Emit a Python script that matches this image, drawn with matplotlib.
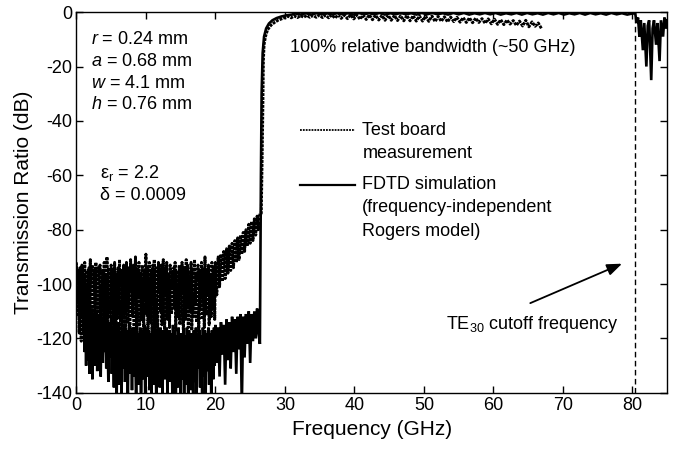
import numpy as np
import matplotlib
matplotlib.use("Agg")
import matplotlib.pyplot as plt
from matplotlib.lines import Line2D

plt.rcParams['font.family'] = ['Liberation Sans', 'DejaVu Sans']
plt.rcParams['mathtext.fontset'] = 'custom'
plt.rcParams['mathtext.rm'] = 'Liberation Sans'
plt.rcParams['mathtext.it'] = 'Liberation Sans:italic'

# ---------------- data ----------------
# Measurement, stop band 0 .. 20 GHz (0.1 GHz grid)
meas_stop_db = [
    -92, -105, -112, -96, -118, -94, -101, -121, -93, -109,
    -97, -115, -92, -108, -120, -95, -103, -117, -94, -111,
    -91, -119, -99, -93, -114, -106, -95, -122, -92, -104,
    -110, -94, -118, -97, -93, -113, -101, -120, -95, -107,
    -92, -116, -96, -109, -90, -121, -98, -94, -112, -104,
    -93, -119, -95, -108, -115, -92, -102, -118, -96, -110,
    -94, -113, -91, -106, -120, -95, -100, -116, -93, -111,
    -97, -118, -92, -104, -114, -94, -109, -121, -91, -103,
    -95, -112, -93, -117, -99, -90, -110, -119, -94, -105,
    -92, -115, -96, -102, -113, -93, -108, -120, -95, -106,
    -89, -111, -94, -117, -100, -92, -114, -105, -95, -119,
    -93, -107, -91, -116, -98, -94, -112, -121, -92, -103,
    -95, -110, -93, -115, -99, -91, -108, -118, -94, -104,
    -92, -113, -96, -101, -116, -93, -107, -111, -95, -102,
    -94, -109, -92, -117, -100, -95, -112, -106, -93, -115,
    -96, -103, -92, -111, -118, -94, -105, -113, -91, -108,
    -93, -116, -95, -102, -110, -92, -117, -104, -94, -112,
    -91, -107, -96, -114, -99, -93, -118, -106, -95, -110,
    -92, -113, -94, -103, -116, -90, -108, -111, -95, -104,
    -93, -115, -97, -106, -112, -92, -109, -101, -94, -113,
    -92,
]
meas_stop_f = np.linspace(0.0, 20.0, len(meas_stop_db))

# Measurement, rising part 20.2 .. 26.4 GHz (0.2 GHz grid)
meas_ramp_db = [
    -104, -90, -101, -89, -99, -88, -98, -87, -96, -86,
    -95, -85, -94, -84, -92, -83, -91, -82, -89, -81,
    -88, -80, -86, -78, -85, -77, -84, -76, -82, -75,
    -80, -74,
]
meas_ramp_f = np.linspace(20.2, 26.4, len(meas_ramp_db))

# Measurement, transition edge
meas_edge_f = [26.6, 26.8, 26.9, 27.0, 27.2, 27.5, 28.0, 28.5, 29.0, 29.5]
meas_edge_db = [-74, -40, -18, -12, -9, -6.5, -4.8, -3.8, -3.0, -2.5]

# Measurement, pass band 30 .. 66.9 GHz
meas_pass_db = [
    -2.0, -1.5, -2.1, -1.4, -2.0, -1.3, -1.9, -1.2, -1.9, -1.2,
    -1.9, -1.1, -2.0, -1.1, -2.1, -1.0, -2.2, -1.0, -2.3, -1.1,
    -2.4, -1.0, -2.5, -1.0, -2.6, -1.1, -2.7, -1.0, -2.8, -1.1,
    -2.9, -1.2, -3.0, -1.1, -3.0, -1.2, -3.1, -1.3, -3.2, -1.2,
    -3.2, -1.3, -3.3, -1.4, -3.3, -1.5, -3.4, -1.4, -3.5, -1.6,
    -3.4, -1.7, -3.6, -1.8, -3.5, -1.9, -3.7, -2.0, -3.8, -2.1,
    -3.9, -2.2, -3.8, -2.4, -4.1, -2.5, -4.3, -2.6, -4.5, -2.8,
    -4.6, -2.9, -4.4, -3.1, -4.9, -3.3, -5.1, -3.0, -5.4, -3.6,
    -5.2, -4.0, -6.0,
]
meas_pass_f = np.linspace(30.0, 66.9, len(meas_pass_db))

# Simulation, stop band 0 .. 20 GHz (0.1 GHz grid)
sim_stop_db = [
    -93, -97, -100, -95, -104, -99, -108, -103, -112, -106,
    -118, -108, -125, -111, -130, -106, -121, -128, -110, -133,
    -114, -126, -109, -135, -118, -112, -130, -116, -124, -110,
    -132, -115, -127, -111, -122, -134, -113, -119, -129, -112,
    -108, -125, -117, -131, -110, -122, -136, -114, -120, -127,
    -112, -133, -116, -124, -138, -115, -129, -120, -141, -117,
    -126, -114, -137, -122, -118, -142, -116, -131, -123, -115,
    -136, -119, -128, -117, -143, -121, -115, -133, -126, -118,
    -139, -116, -124, -134, -117, -129, -145, -115, -121, -137,
    -118, -131, -116, -140, -122, -117, -127, -135, -115, -143,
    -120, -116, -134, -128, -117, -139, -118, -125, -142, -116,
    -130, -119, -137, -115, -126, -144, -117, -132, -121, -118,
    -138, -116, -129, -120, -141, -117, -124, -135, -118, -130,
    -116, -143, -119, -127, -117, -136, -122, -118, -140, -115,
    -128, -133, -117, -145, -119, -124, -138, -116, -131, -120,
    -146, -118, -127, -135, -117, -142, -121, -119, -137, -116,
    -130, -144, -117, -125, -139, -118, -133, -120, -147, -117,
    -128, -136, -116, -141, -122, -118, -131, -117, -138, -119,
    -125, -143, -116, -129, -134, -117, -140, -121, -118, -132,
    -116, -137, -123, -118, -142, -117, -127, -135, -116, -130,
    -115,
]
sim_stop_f = np.linspace(0.0, 20.0, len(sim_stop_db))

# Simulation, 20.2 .. 26.4 GHz (0.2 GHz grid)
sim_ramp_db = [
    -129, -116, -134, -114, -126, -115, -137, -113, -128, -114,
    -131, -112, -125, -113, -133, -112, -124, -111, -145, -112,
    -127, -111, -122, -110, -129, -111, -121, -110, -120, -109,
    -118, -122,
]
sim_ramp_f = np.linspace(20.2, 26.4, len(sim_ramp_db))

# Simulation, transition edge
sim_edge_f = [26.45, 26.55, 26.65, 26.8, 27.0, 27.3, 27.7, 28.2, 28.8, 29.5, 30.2, 31.0]
sim_edge_db = [-100, -60, -30, -15, -9, -6, -4.2, -3, -2.2, -1.6, -1.2, -0.9]

# Simulation, pass band 31.5 .. 80 GHz
sim_pass_db = [
    -0.5, -0.9, -0.4, -0.9, -0.4, -0.8, -0.4, -0.9, -0.3, -0.8,
    -0.4, -0.9, -0.3, -0.8, -0.4, -0.8, -0.3, -0.9, -0.4, -0.8,
    -0.3, -0.8, -0.4, -0.9, -0.3, -0.8, -0.3, -0.8, -0.4, -0.9,
    -0.3, -0.8, -0.3, -0.9, -0.4, -0.8, -0.3, -0.8, -0.3, -0.9,
    -0.4, -0.8, -0.3, -0.9, -0.3, -0.8, -0.4, -0.9, -0.3, -0.8,
    -0.3, -0.9, -0.4, -0.8, -0.3, -0.9, -0.3, -0.8, -0.4, -0.9,
    -0.3, -0.8, -0.4, -0.9, -0.5,
]
sim_pass_f = np.linspace(31.5, 80.0, len(sim_pass_db))

# Simulation, above TE30 cutoff
sim_high_f = [80.4, 80.6, 80.8, 81.0, 81.2, 81.5, 81.7, 82.0, 82.2, 82.4, 82.7,
              82.9, 83.1, 83.4, 83.6, 83.9, 84.1, 84.4, 84.6, 84.8, 85.0]
sim_high_db = [-0.5, -4, -2, -9, -3, -14, -4, -20, -5, -3, -25,
               -6, -3, -12, -4, -18, -3, -9, -2, -6, -3]

te30_cutoff = 80.3

x_ticks = [0, 10, 20, 30, 40, 50, 60, 70, 80]
y_ticks = [0, -20, -40, -60, -80, -100, -120, -140]

# ---------------- figure ----------------
fig = plt.figure(figsize=(6.76, 4.49), dpi=100)
ax = fig.add_axes([0.113, 0.125, 0.874, 0.848])

meas_f = np.concatenate([meas_stop_f, meas_ramp_f, meas_edge_f, meas_pass_f])
meas_db = np.concatenate([meas_stop_db, meas_ramp_db, meas_edge_db, meas_pass_db])
sim_f = np.concatenate([sim_stop_f, sim_ramp_f, sim_edge_f, sim_pass_f, sim_high_f])
sim_db = np.concatenate([sim_stop_db, sim_ramp_db, sim_edge_db, sim_pass_db, sim_high_db])

ax.plot(sim_f, sim_db, color='black', lw=1.9, solid_joinstyle='miter')
ax.plot(meas_f, meas_db, color='black', lw=2.1, linestyle=(0, (1.0, 0.35)))

ax.axvline(te30_cutoff, color='black', lw=1.0, linestyle=(0, (4, 2.5)))

ax.set_xlim(0, 85)
ax.set_ylim(-140, 0)
ax.set_xticks(x_ticks)
ax.set_yticks(y_ticks)
ax.set_yticklabels([str(v) for v in y_ticks])
ax.tick_params(direction='in', top=True, right=True, length=5, width=1,
               labelsize=13, pad=3)
for s in ax.spines.values():
    s.set_linewidth(1.0)

ax.set_xlabel('Frequency (GHz)', fontsize=15, labelpad=4)
ax.set_ylabel('Transmission Ratio (dB)', fontsize=15, labelpad=2)

# parameter annotations
pfs = 13
ax.text(0.025, 0.927, r'$\it{r}$ = 0.24 mm', transform=ax.transAxes, fontsize=pfs, va='center')
ax.text(0.025, 0.870, r'$\it{a}$ = 0.68 mm', transform=ax.transAxes, fontsize=pfs, va='center')
ax.text(0.025, 0.812, r'$\it{w}$ = 4.1 mm', transform=ax.transAxes, fontsize=pfs, va='center')
ax.text(0.025, 0.758, r'$\it{h}$ = 0.76 mm', transform=ax.transAxes, fontsize=pfs, va='center')
ax.text(0.040, 0.577, r'ε$_\mathrm{r}$ = 2.2', transform=ax.transAxes, fontsize=pfs, va='center')
ax.text(0.040, 0.518, 'δ = 0.0009', transform=ax.transAxes, fontsize=pfs, va='center')

ax.text(0.362, 0.908, '100% relative bandwidth (~50 GHz)', transform=ax.transAxes,
        fontsize=pfs, va='center')

# legend (manual)
ax.add_line(Line2D([0.379, 0.472], [0.690, 0.690], transform=ax.transAxes,
                   color='black', lw=1.3, linestyle=(0, (1, 0.6))))
ax.add_line(Line2D([0.379, 0.472], [0.546, 0.546], transform=ax.transAxes,
                   color='black', lw=1.6))
ax.text(0.484, 0.690, 'Test board', transform=ax.transAxes, fontsize=pfs, va='center')
ax.text(0.484, 0.630, 'measurement', transform=ax.transAxes, fontsize=pfs, va='center')
ax.text(0.484, 0.546, 'FDTD simulation', transform=ax.transAxes, fontsize=pfs, va='center')
ax.text(0.484, 0.486, '(frequency-independent', transform=ax.transAxes, fontsize=pfs, va='center')
ax.text(0.484, 0.423, 'Rogers model)', transform=ax.transAxes, fontsize=pfs, va='center')

# TE30 annotation
ax.annotate('', xy=(78.5, -92.5), xytext=(65.3, -107),
            arrowprops=dict(arrowstyle='-|>,head_length=0.9,head_width=0.35',
                            color='black', lw=1.3, shrinkA=0, shrinkB=0))
ax.text(53.2, -115, r'TE$_{30}$ cutoff frequency', fontsize=pfs, va='center')

fig.savefig('out.png', dpi=100)
